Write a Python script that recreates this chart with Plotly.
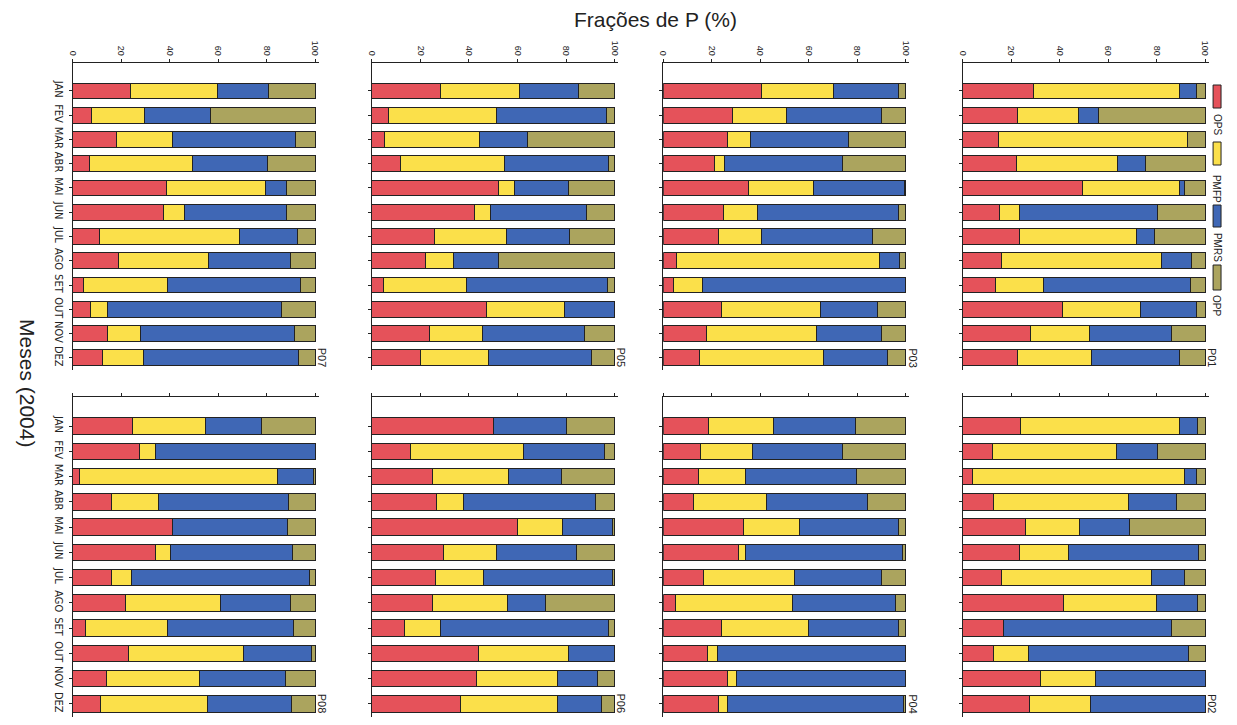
import plotly.graph_objects as go
from plotly.subplots import make_subplots

MONTHS = ["JAN", "FEV", "MAR", "ABR", "MAI", "JUN", "JUL", "AGO", "SET", "OUT", "NOV", "DEZ"]
SERIES = ["OPS", "PMFP", "PMRS", "OPP"]
VALUE_TICKS = [0, 20, 40, 60, 80, 100]

# ---- data (percent fractions of P) ----
P01_OPS = [29.2, 22.7, 15.0, 22.4, 49.3, 15.4, 23.4, 16.1, 13.4, 41.3, 28.0, 22.7]
P01_PMFP = [60.4, 25.0, 77.9, 41.4, 40.2, 8.0, 48.2, 66.0, 19.8, 32.2, 24.2, 30.6]
P01_PMRS = [6.7, 8.2, 0.0, 11.7, 2.0, 56.8, 7.6, 12.3, 60.8, 22.8, 33.9, 36.2]
P01_OPP = [3.7, 44.1, 7.1, 24.5, 8.5, 19.8, 20.8, 5.6, 6.0, 3.7, 13.9, 10.5]

P02_OPS = [24.1, 12.3, 4.2, 12.7, 25.9, 23.5, 16.0, 41.5, 16.8, 12.7, 32.0, 27.8]
P02_PMFP = [65.5, 51.3, 87.5, 55.7, 22.5, 20.0, 62.0, 38.5, 0.0, 14.5, 22.7, 24.9]
P02_PMRS = [7.1, 16.7, 4.7, 19.8, 20.3, 53.9, 13.4, 16.7, 69.4, 66.0, 45.3, 47.3]
P02_OPP = [3.3, 19.7, 3.6, 11.8, 31.3, 2.6, 8.6, 3.3, 13.8, 6.8, 0.0, 0.0]

P03_OPS = [40.6, 28.6, 26.3, 21.2, 35.2, 25.0, 22.7, 5.6, 4.2, 24.2, 17.9, 15.0]
P03_PMFP = [29.7, 22.0, 9.7, 4.1, 26.8, 13.7, 17.9, 83.7, 11.9, 40.6, 45.2, 51.1]
P03_PMRS = [26.8, 39.4, 40.2, 48.7, 37.6, 58.4, 45.6, 8.0, 83.9, 23.7, 27.0, 26.2]
P03_OPP = [2.9, 10.0, 23.8, 26.0, 0.4, 2.9, 13.8, 2.7, 0.0, 11.5, 9.9, 7.7]

P04_OPS = [18.5, 15.4, 14.7, 12.6, 33.1, 31.0, 16.7, 4.9, 23.9, 18.3, 26.3, 22.8]
P04_PMFP = [26.9, 21.4, 19.1, 29.8, 23.0, 3.0, 37.3, 48.3, 36.1, 4.1, 3.8, 3.5]
P04_PMRS = [33.9, 37.0, 45.9, 41.8, 40.8, 64.6, 36.0, 42.5, 36.8, 77.6, 69.9, 72.7]
P04_OPP = [20.7, 26.2, 20.3, 15.8, 3.1, 1.4, 10.0, 4.3, 3.2, 0.0, 0.0, 1.0]

P05_OPS = [28.4, 6.8, 5.1, 11.8, 52.2, 42.2, 25.6, 22.2, 4.8, 47.1, 23.7, 20.1]
P05_PMFP = [32.3, 44.4, 39.4, 43.0, 6.6, 6.7, 29.7, 11.5, 34.0, 32.4, 21.8, 28.1]
P05_PMRS = [24.4, 45.6, 19.6, 42.9, 22.4, 39.7, 26.3, 18.4, 58.5, 20.5, 42.2, 42.5]
P05_OPP = [14.9, 3.2, 35.9, 2.3, 18.8, 11.4, 18.4, 47.9, 2.7, 0.0, 12.3, 9.3]

P06_OPS = [50.1, 15.8, 24.9, 26.6, 60.2, 29.4, 26.3, 24.8, 13.5, 43.9, 43.1, 36.4]
P06_PMFP = [0.0, 46.6, 31.2, 11.3, 18.3, 21.8, 19.7, 31.2, 14.8, 37.3, 33.2, 39.9]
P06_PMRS = [30.1, 33.5, 22.2, 54.2, 20.8, 33.1, 53.3, 15.7, 69.2, 18.8, 16.5, 18.3]
P06_OPP = [19.8, 4.1, 21.7, 7.9, 0.7, 15.7, 0.7, 28.3, 2.5, 0.0, 7.2, 5.4]

P07_OPS = [24.0, 7.8, 18.2, 7.1, 38.8, 37.4, 11.2, 18.9, 4.5, 7.5, 14.4, 12.1]
P07_PMFP = [35.6, 21.7, 23.0, 42.4, 40.8, 8.9, 57.4, 37.0, 34.4, 6.7, 13.7, 16.9]
P07_PMRS = [21.2, 27.3, 50.7, 30.9, 8.6, 41.9, 24.1, 34.1, 55.2, 71.7, 63.4, 64.2]
P07_OPP = [19.2, 43.2, 8.1, 19.6, 11.8, 11.8, 7.3, 10.0, 5.9, 14.1, 8.5, 6.8]

P08_OPS = [24.6, 27.6, 2.9, 16.1, 41.1, 34.2, 15.9, 21.7, 5.2, 23.0, 14.1, 11.4]
P08_PMFP = [30.0, 6.6, 81.7, 19.2, 0.0, 6.2, 8.5, 39.4, 34.1, 47.6, 38.3, 44.0]
P08_PMRS = [23.1, 65.8, 14.6, 53.7, 47.6, 50.4, 73.1, 28.8, 51.9, 27.7, 35.2, 34.9]
P08_OPP = [22.3, 0.0, 0.8, 11.0, 11.3, 9.2, 2.5, 10.1, 8.8, 1.7, 12.4, 9.7]

PANELS = {
    "P01": [P01_OPS, P01_PMFP, P01_PMRS, P01_OPP],
    "P02": [P02_OPS, P02_PMFP, P02_PMRS, P02_OPP],
    "P03": [P03_OPS, P03_PMFP, P03_PMRS, P03_OPP],
    "P04": [P04_OPS, P04_PMFP, P04_PMRS, P04_OPP],
    "P05": [P05_OPS, P05_PMFP, P05_PMRS, P05_OPP],
    "P06": [P06_OPS, P06_PMFP, P06_PMRS, P06_OPP],
    "P07": [P07_OPS, P07_PMFP, P07_PMRS, P07_OPP],
    "P08": [P08_OPS, P08_PMFP, P08_PMRS, P08_OPP],
}

# ---- styling / layout ----
COLORS = ["#E5525A", "#FBE04A", "#3F67B5", "#ABA45E"]
WIN_W, WIN_H = 1237, 725
OFF = 8                                # page body margin
W, H = WIN_W - 2 * OFF, WIN_H - 2 * OFF


def px(p):
    return (p - OFF) / W


def py(p):
    return 1 - (p - OFF) / H


GRID = [["P07", "P05", "P03", "P01"],
        ["P08", "P06", "P04", "P02"]]
COL_X0 = [68, 369, 662, 963]          # screen pixel of value 0
COL_W = 244                           # pixels for 0..100
X_MAX = 101.4
ROW_Y = [(63, 370), (397, 717)]       # screen pixel top/bottom of each row
ROW_RANGE = [[11.5, -1.15], [11.52, -1.15]]

FONT = "Liberation Sans, Arial, sans-serif"
NARROW = "Liberation Sans Narrow, Arial Narrow, DejaVu Sans Condensed, sans-serif"

fig = make_subplots(rows=2, cols=4)

for r in range(2):
    for c in range(4):
        name = GRID[r][c]
        vals = PANELS[name]
        for s, ser in enumerate(SERIES):
            fig.add_trace(go.Bar(
                y=MONTHS, x=vals[s], orientation="h", name=ser,
                marker=dict(color=COLORS[s], line=dict(color="#222222", width=1)),
                showlegend=False, hoverinfo="x+y+name"),
                row=r + 1, col=c + 1)
        x0 = px(COL_X0[c])
        x1 = px(COL_X0[c] + COL_W * X_MAX / 100)
        y0 = max(0.0, py(ROW_Y[r][1]))
        y1 = py(ROW_Y[r][0])
        fig.update_xaxes(row=r + 1, col=c + 1, domain=[x0, x1], range=[0, X_MAX],
                         side="top", tickvals=VALUE_TICKS, ticks="outside", ticklen=3,
                         tickcolor="#222", showline=True, linecolor="#222", linewidth=1,
                         showgrid=False, zeroline=False, showticklabels=(r == 0),
                         tickangle=90, tickfont=dict(size=9, color="#222", family=FONT))
        fig.update_yaxes(row=r + 1, col=c + 1, domain=[y0, y1], range=ROW_RANGE[r],
                         categoryorder="array", categoryarray=MONTHS,
                         ticks="outside", ticklen=3, tickcolor="#222",
                         showline=True, linecolor="#222", linewidth=1,
                         showgrid=False, zeroline=False, showticklabels=(c == 0),
                         tickangle=90, tickfont=dict(size=11, color="#222", family=NARROW))
        # panel label
        fig.add_annotation(xref="paper", yref="paper",
                           x=px(COL_X0[c] + COL_W + 7),
                           y=py(358 if r == 0 else 704),
                           text=name, showarrow=False, textangle=90,
                           xanchor="center", yanchor="middle",
                           font=dict(size=11, color="#222", family=FONT))

# axis titles
fig.add_annotation(xref="paper", yref="paper", x=px(654), y=py(20),
                   text="Frações de P (%)", showarrow=False,
                   xanchor="center", yanchor="middle",
                   font=dict(size=21, color="#222", family=FONT))
fig.add_annotation(xref="paper", yref="paper", x=px(22), y=py(383),
                   text="Meses (2004)", showarrow=False, textangle=90,
                   xanchor="center", yanchor="middle",
                   font=dict(size=21, color="#222", family=FONT))

# legend (rotated, drawn beside panel P01)
LEG_SWATCH = [(85, 108), (142, 165), (205, 227), (265, 290)]
LEG_TEXT_Y = [124, 189, 247, 305]
for s, ser in enumerate(SERIES):
    fig.add_shape(type="rect", xref="paper", yref="paper",
                  x0=px(1215), x1=px(1223),
                  y0=py(LEG_SWATCH[s][1]), y1=py(LEG_SWATCH[s][0]),
                  fillcolor=COLORS[s], line=dict(color="#222", width=1))
    fig.add_annotation(xref="paper", yref="paper", x=px(1219), y=py(LEG_TEXT_Y[s]),
                       text=ser, showarrow=False, textangle=90,
                       xanchor="center", yanchor="middle",
                       font=dict(size=10, color="#222", family=FONT))

fig.update_layout(width=W, height=H, margin=dict(l=0, r=0, t=0, b=0),
                  barmode="stack", bargap=0.35,
                  paper_bgcolor="white", plot_bgcolor="white")

fig.write_html("out.html")
